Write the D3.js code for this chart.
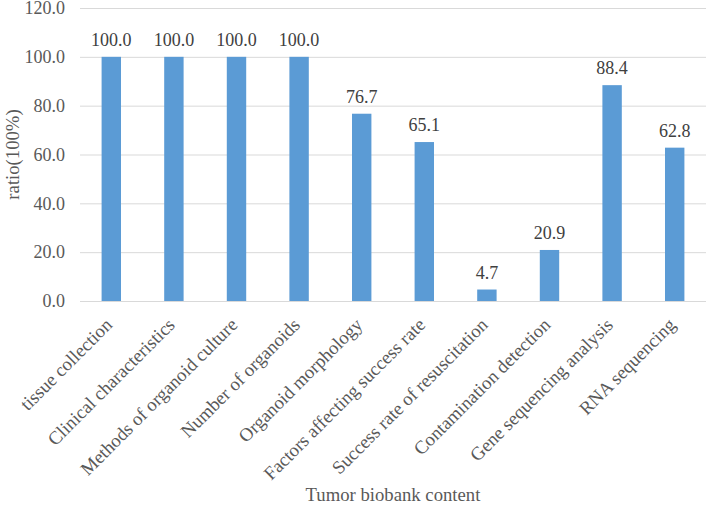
<!DOCTYPE html>
<html>
<head>
<meta charset="utf-8">
<script src="https://cdn.jsdelivr.net/npm/d3@7"></script>
<style>
  body { margin: 0; background: #fff; }
  text { font-family: "Liberation Serif", "Times New Roman", serif; }
</style>
</head>
<body>
<div id="chart"></div>
<script>
var categories = ["tissue collection", "Clinical characteristics", "Methods of organoid culture",
    "Number of organoids", "Organoid morphology", "Factors affecting success rate",
    "Success rate of resuscitation", "Contamination detection", "Gene sequencing analysis",
    "RNA sequencing"];
var values = [100.0, 100.0, 100.0, 100.0, 76.7, 65.1, 4.7, 20.9, 88.4, 62.8];
var yTicks = [0, 20, 40, 60, 80, 100, 120];

var wt = 708;
var ht = 505;
var margin = { top: 8, right: 2, bottom: 204, left: 80 };
var width = wt - margin.left - margin.right;
var height = ht - margin.top - margin.bottom;

var svg = d3.select("#chart").append("svg")
    .attr("width", wt)
    .attr("height", ht);

var g = svg.append("g")
    .attr("transform", "translate(" + margin.left + "," + margin.top + ")");

var x = d3.scaleBand()
    .domain(categories)
    .range([0, width])
    .paddingInner(0.69)
    .paddingOuter(0.345);

var y = d3.scaleLinear()
    .domain([0, 120])
    .range([height, 0]);

// gridlines
g.append("g")
    .selectAll("line")
    .data(yTicks)
    .enter().append("line")
    .attr("x1", 0)
    .attr("x2", width)
    .attr("y1", function (d) { return y(d) + 0.5; })
    .attr("y2", function (d) { return y(d) + 0.5; })
    .attr("stroke", "#d9d9d9")
    .attr("stroke-width", 1);

// y axis labels
var yAxis = g.append("g")
    .call(d3.axisLeft(y).tickValues(yTicks).tickSize(0).tickPadding(15)
        .tickFormat(d3.format(".1f")));
yAxis.select(".domain").remove();
yAxis.selectAll("text")
    .attr("fill", "#595959")
    .style("font-size", "18px")
    .style("font-family", "Liberation Serif");

// bars
g.selectAll(".bar")
    .data(values)
    .enter().append("rect")
    .attr("class", "bar")
    .attr("x", function (d, i) { return x(categories[i]); })
    .attr("width", x.bandwidth())
    .attr("y", function (d) { return y(d); })
    .attr("height", function (d) { return height - y(d); })
    .attr("fill", "#5b9bd5");

// value labels
g.selectAll(".val")
    .data(values)
    .enter().append("text")
    .attr("class", "val")
    .attr("x", function (d, i) { return x(categories[i]) + x.bandwidth() / 2; })
    .attr("y", function (d) { return y(d) - 11; })
    .attr("text-anchor", "middle")
    .attr("fill", "#404040")
    .style("font-size", "18px")
    .text(function (d) { return d.toFixed(1); });

// x category labels
g.selectAll(".cat")
    .data(categories)
    .enter().append("text")
    .attr("class", "cat")
    .attr("transform", function (d) {
        return "translate(" + (x(d) + x.bandwidth() / 2 + 2) + "," + (height + 25) + ") rotate(-45)";
    })
    .attr("text-anchor", "end")
    .attr("fill", "#595959")
    .style("font-size", "18.7px")
    .text(function (d) { return d; });

// axis titles
svg.append("text")
    .attr("x", margin.left + width / 2)
    .attr("y", 501)
    .attr("text-anchor", "middle")
    .attr("fill", "#595959")
    .style("font-size", "18.7px")
    .text("Tumor biobank content");

svg.append("text")
    .attr("transform", "translate(19," + (margin.top + height / 2) + ") rotate(-90)")
    .attr("text-anchor", "middle")
    .attr("fill", "#595959")
    .style("font-size", "18.7px")
    .text("ratio(100%)");
</script>
</body>
</html>
